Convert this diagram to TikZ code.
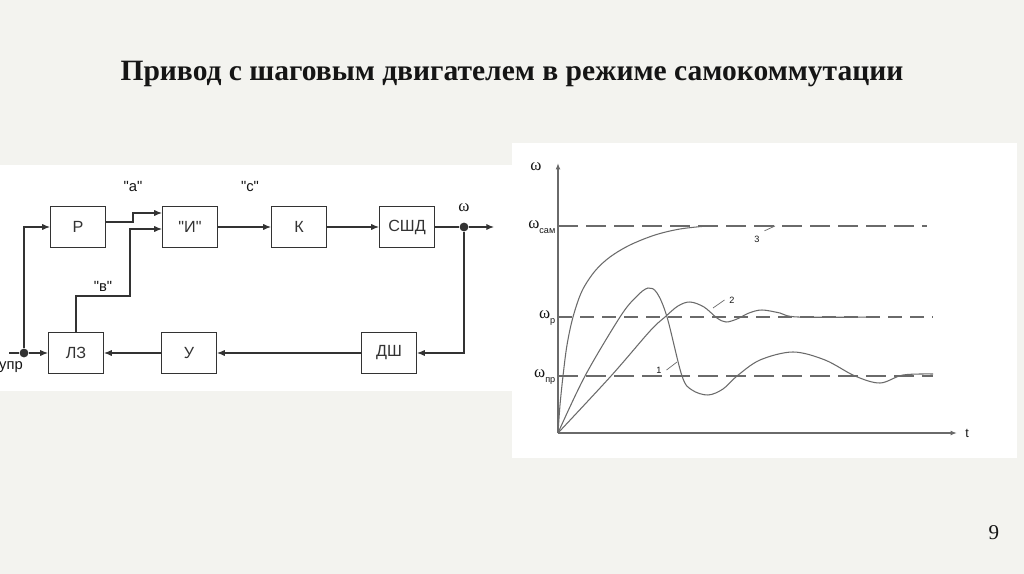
\documentclass[tikz,border=0pt]{standalone}
\usepackage{fontspec}
\setmainfont{Liberation Serif}
\setsansfont{Liberation Sans}
\usetikzlibrary{arrows.meta,calc}
\definecolor{slide}{HTML}{F3F3EF}
\definecolor{paper}{HTML}{FFFFFF}
\definecolor{ink}{HTML}{151515}
\definecolor{wirecol}{HTML}{333333}
\definecolor{trace}{HTML}{6A6A6A}
\tikzset{
  block/.style={draw=wirecol,line width=.75pt,fill=paper,
                minimum width=13.75mm,minimum height=10.25mm,inner sep=0pt,
                font=\blockfont,text=wirecol},
  wire/.style={draw=wirecol,line width=.75pt},
  sig/.style={wire,-{Latex[length=5.5pt,width=4.4pt]}},
  junction/.style={circle,fill=wirecol,minimum size=2.2mm,inner sep=0pt},
  level/.style={draw=trace,line width=.85pt,dash pattern=on 5mm off 2mm},
  levelp/.style={draw=trace,line width=.85pt,dash pattern=on 3.5mm off 2mm},
  trend/.style={draw=trace,line width=.75pt},
  leader/.style={draw=trace,line width=.5pt},
  axisline/.style={draw=trace,line width=.9pt,-{Latex[length=4.5pt,width=3.4pt]}},
  every node/.style={text=ink}
}
\newcommand{\titlefont}{\bfseries\fontsize{21}{23}\selectfont}
\newcommand{\blockfont}{\sffamily\fontsize{11.5}{13}\selectfont}
\newcommand{\tagfont}{\sffamily\fontsize{10.5}{12}\selectfont}
\newcommand{\omegafont}{\fontsize{12}{13}\selectfont}
\newcommand{\subfont}{\sffamily\fontsize{6.5}{7}\selectfont}
\newcommand{\curvefont}{\sffamily\fontsize{6.5}{7}\selectfont}
\newcommand{\pagefont}{\fontsize{15}{17}\selectfont}
\newcommand{\qq}[1]{\textquotedbl#1\textquotedbl}
\newcommand{\omsub}[1]{ω\raisebox{-.55ex}{\subfont #1}}

\begin{document}
\begin{tikzpicture}[x=.25mm,y=-.25mm]
  \fill[slide] (0,0) rectangle (1024,574);
  \useasboundingbox (0,0) rectangle (1024,574);

  \node[font=\titlefont] (title) at (512,74)
    {Привод с шаговым двигателем в режиме самокоммутации};

  % ========================= BLOCK DIAGRAM =========================
  \fill[paper] (0,165) rectangle (512,391);

  \node[block] (R)  at (78,227)  {Р};
  \node[block] (I)  at (190,227) {\qq{И}};
  \node[block] (K)  at (299,227) {К};
  \node[block] (SD) at (407,227) {СШД};
  \node[block] (LZ) at (76,353)  {ЛЗ};
  \node[block] (U)  at (189,353) {У};
  \node[block] (DS) at (389,353) {ДШ};

  \coordinate (uIn)  at (9,353);
  \node[junction] (jIn)  at (24,353) {};
  \node[junction] (jOut) at (464,227) {};
  \coordinate (wOut) at (494,227);
  \coordinate (aOut) at ($(R.east)+(0,-5)$);
  \coordinate (aKnee) at (133,213);
  \coordinate (Ia) at (I.west |- aKnee);
  \coordinate (vKnee) at (130,296);
  \coordinate (Ib) at ($(I.west)+(0,2)$);

  % forward path
  \draw[wire] (uIn)--(jIn);
  \draw[sig] (jIn)--(LZ.west);
  \draw[sig] (jIn) |- (R.west);
  \draw[sig] (aOut) -| (aKnee) -- (Ia);
  \draw[sig] (LZ.north) |- (vKnee) |- (Ib);
  \draw[sig] (I.east)--(K.west);
  \draw[sig] (K.east)--(SD.west);
  \draw[wire] (SD.east)--(jOut);
  \draw[sig] (jOut)--(wOut);

  % feedback path
  \draw[sig] (jOut) |- (DS.east);
  \draw[sig] (DS.west)--(U.east);
  \draw[sig] (U.west)--(LZ.east);

  % signal labels
  \node[font=\tagfont] (tagA) at (133,186) {\qq{а}};
  \node[font=\tagfont] (tagC) at (250,186) {\qq{с}};
  \node[font=\tagfont] (tagB) at (103,286) {\qq{в}};
  \node[font=\tagfont] (tagU) at (11,367) {упр};
  \node[font=\omegafont] (tagW) at (464,208) {ω};

  % ============================ GRAPH ==============================
  \fill[paper] (512,143) rectangle (1017,458);

  \coordinate (O)  at (558,433);
  \coordinate (yT) at (558,163);
  \coordinate (xT) at (957,433);
  \draw[axisline] (O)--(yT);
  \draw[axisline] (O)--(xT);
  \node[font=\omegafont] (labW) at (536,167) {ω};
  \node[font=\sffamily\fontsize{9}{10}\selectfont] (labT) at (967,433) {t};

  % reference levels
  \draw[level]  (558,226)--(927,226);
  \draw[levelp] (558,317)--(933,317);
  \draw[level]  (558,376)--(933,376);
  \node[anchor=east,font=\omegafont,inner sep=1pt] (labSam) at (557,227) {\omsub{сам}};
  \node[anchor=east,font=\omegafont,inner sep=1pt] (labP)   at (557,318) {\omsub{р}};
  \node[anchor=east,font=\omegafont,inner sep=1pt] (labPr)  at (557,377) {\omsub{пр}};

  % curve 3
  \draw[trend] plot[smooth,tension=.55] coordinates {
    (558,433) (560,405) (563,376) (567,345) (573,317) (582,291)
    (595,271) (610,257) (630,245) (655,235) (680,229) (707,226)};
  % curve 1
  \draw[trend] plot[smooth,tension=.55] coordinates {
    (558,433) (585,376) (620,317) (636,297) (648,288) (657,293)
    (667,317) (682,376) (692,390) (708,395) (723,389) (737,376)
    (760,360) (793,352) (825,360) (855,376) (880,383) (903,375) (933,374)};
  % curve 2
  \draw[trend] plot[smooth,tension=.55] coordinates {
    (558,433) (611,376) (650,331) (665,317) (678,306) (690,302)
    (704,307) (717,318) (726,322) (737,319) (749,313) (762,310)
    (780,313) (798,317) (878,317)};

  % curve numbers
  \node[font=\curvefont] (n1) at (659,370) {1};
  \node[font=\curvefont] (n2) at (732,300) {2};
  \node[font=\curvefont] (n3) at (757,239) {3};
  \coordinate (n1e) at (677,362);
  \coordinate (n2e) at (713,308);
  \coordinate (n3e) at (775,226);
  \draw[leader] (n1.east)--(n1e);
  \draw[leader] (n2.west)--(n2e);
  \draw[leader] (n3.north east)--(n3e);

  \node[font=\pagefont] (page) at (994,533) {9};
\end{tikzpicture}
\end{document}
